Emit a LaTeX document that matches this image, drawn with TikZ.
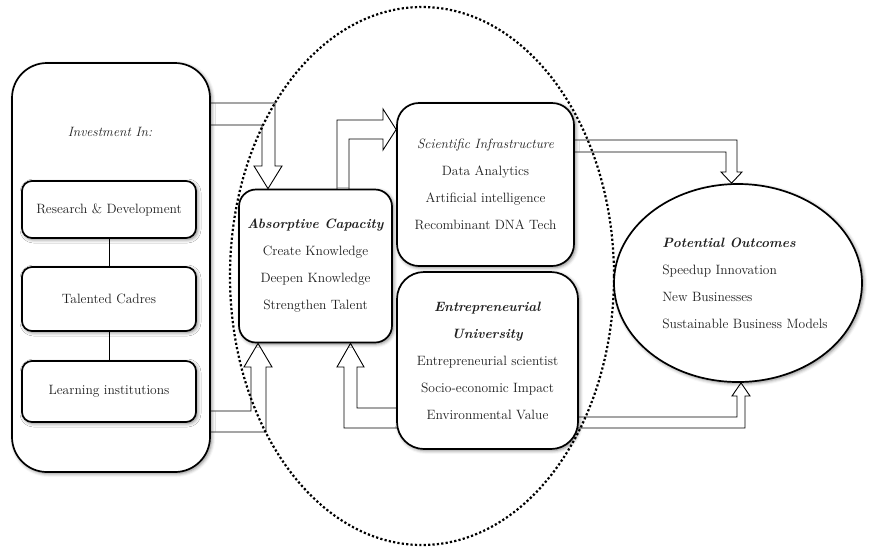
\documentclass[tikz,border=0pt]{standalone}
\usetikzlibrary{shapes.geometric,shadows.blur}
\pgfdeclarelayer{bg}
\pgfdeclarelayer{dots}
\pgfsetlayers{bg,dots,main}
\begin{document}
\begin{tikzpicture}[x=1pt,y=-1pt,
  every node/.style={font=\fontsize{13.5}{27}\selectfont, text=black!88},
  shad/.style={blur shadow={shadow xshift=1.5pt, shadow yshift=-1.5pt, shadow blur radius=3.5pt, shadow opacity=50}},
  box/.style={draw, line width=1.7pt, fill=white, shad, align=center, inner sep=0pt},
  smallbox/.style={box, rounded corners=10pt, minimum width=174pt},
  harrow/.style={draw, line width=0.9pt, fill=white, line join=miter},
  conn/.style={draw, line width=0.9pt}]
\useasboundingbox (0,0) rectangle (869,550);

% main nodes
\node[box, rounded corners=35pt, minimum width=198pt, minimum height=409pt] (inv) at (111,267.5) {};
\node (invt) at (110,132) {\itshape Investment In:};
\node[smallbox, minimum height=57pt] (rd) at (109,209.5) {Research \& Development};
\node[smallbox, minimum height=64pt] (tc) at (109,299) {Talented Cadres};
\node[smallbox, minimum height=61pt] (li) at (109,391.5) {Learning institutions};

\node[box, rounded corners=17pt, minimum width=153pt, minimum height=153pt] (ac) at (315.5,266)
  {\textbf{\textit{Absorptive Capacity}}\\Create Knowledge\\Deepen Knowledge\\Strengthen Talent};
\node[box, rounded corners=22pt, minimum width=177pt, minimum height=163pt] (si) at (485.5,184.5)
  {\textit{Scientific Infrastructure}\\Data Analytics\\Artificial intelligence\\Recombinant DNA Tech};
\node[box, rounded corners=27pt, minimum width=181pt, minimum height=177pt] (eu) at (487.5,360.5)
  {\textbf{\textit{Entrepreneurial}}\\\textbf{\textit{University}}\\Entrepreneurial scientist\\Socio-economic Impact\\Environmental Value};
\node[box, ellipse, minimum width=248pt, minimum height=198pt] (po) at (738,283) {};
\node[align=left] (pot) at (745,283)
  {\textbf{\textit{Potential Outcomes}}\\Speedup Innovation\\New Businesses\\Sustainable Business Models};

% connectors between inner boxes
\draw[conn] (rd) -- (tc);
\draw[conn] (tc) -- (li);

% dotted group ellipse
\begin{pgfonlayer}{dots}
\node[draw, ellipse, line width=2.2pt, dash pattern=on 2.2pt off 2.2pt, minimum width=384pt, minimum height=538pt, inner sep=0pt] (grp) at (422,276) {};
\end{pgfonlayer}

% hollow arrows
\begin{pgfonlayer}{bg}
\draw[harrow] ([xshift=-3pt]inv.east |- 0,103) -- (275,103) -- (275,166) -- (282,166) -- (ac.north -| 268,0)
  -- (254,166) -- (262,166) -- (262,125) -- ([xshift=-3pt]inv.east |- 0,125);
\draw[harrow] ([xshift=-3pt]inv.east |- 0,411) -- (251,411) -- (251,367) -- (244,367) -- (ac.south -| 258,0)
  -- (272,367) -- (266,367) -- (266,432) -- ([xshift=-3pt]inv.east |- 0,432);
\draw[harrow] ([yshift=-3pt]ac.north -| 337,0) -- (337,120) -- (383,120) -- (383,109) -- (si.west |- 0,129.5)
  -- (383,150) -- (383,139) -- (349,139) -- ([yshift=-3pt]ac.north -| 349,0);
\draw[harrow] ([xshift=-3pt]si.east |- 0,140) -- (737,140) -- (737,172) -- (742,172) -- (po.north -| 731.5,0)
  -- (721,172) -- (726,172) -- (726,152) -- ([xshift=-3pt]si.east |- 0,152);
\draw[harrow] ([xshift=-3pt]eu.east |- 0,417) -- (737,417) -- (737,396) -- (732,396) -- (po.south -| 741,0)
  -- (750,396) -- (745,396) -- (745,428) -- ([xshift=-3pt]eu.east |- 0,428);
\draw[harrow] ([xshift=3pt]eu.west |- 0,408) -- (357,408) -- (357,367) -- (364,367) -- (ac.south -| 350.5,0)
  -- (337,367) -- (344,367) -- (344,428) -- ([xshift=3pt]eu.west |- 0,428);
\end{pgfonlayer}
\end{tikzpicture}
\end{document}
